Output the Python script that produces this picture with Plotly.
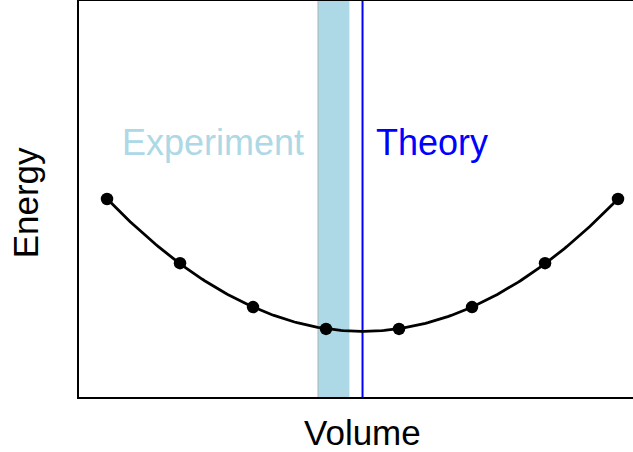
import numpy as np
import plotly.graph_objects as go

# Energy–volume data points (arbitrary units)
volume = [0, 1, 2, 3, 4, 5, 6, 7]
energy = [5.00, 3.38, 2.27, 1.72, 1.72, 2.27, 3.38, 5.00]

# Experimental equilibrium-volume range and labels
experiment_range = [2.89, 3.32]
label_experiment = "Experiment"
label_theory = "Theory"
x_title = "Volume"
y_title = "Energy"

# Quadratic fit of E(V); the theoretical volume is the fit minimum
coef = np.polyfit(volume, energy, 2)
v_fit = np.linspace(min(volume), max(volume), 200)
e_fit = np.polyval(coef, v_fit)
v_theory = -coef[1] / (2 * coef[0])

FONT = "Liberation Sans, Arial, sans-serif"

fig = go.Figure()
fig.add_trace(go.Scatter(x=v_fit, y=e_fit, mode="lines",
                         line=dict(color="black", width=2.8),
                         hoverinfo="skip", showlegend=False))
fig.add_trace(go.Scatter(x=volume, y=energy, mode="markers",
                         marker=dict(color="black", size=12.5),
                         showlegend=False))

# Experimental band and theory line
fig.add_shape(type="rect", xref="x", yref="paper",
              x0=experiment_range[0], x1=experiment_range[1], y0=0, y1=1,
              fillcolor="#ADD8E6", line=dict(width=0), layer="below")
fig.add_shape(type="line", xref="x", yref="paper",
              x0=experiment_range[0], x1=experiment_range[0], y0=0, y1=1,
              line=dict(color="#A8B4B8", width=1), layer="below")
fig.add_shape(type="line", xref="x", yref="paper",
              x0=v_theory, x1=v_theory, y0=0, y1=1,
              line=dict(color="blue", width=2), layer="below")

fig.add_annotation(x=experiment_range[0] - 0.16, y=6.42, xref="x", yref="y",
                   text=label_experiment, showarrow=False,
                   xanchor="right", yanchor="middle",
                   font=dict(family=FONT, size=36, color="#ADD8E6"))
fig.add_annotation(x=v_theory + 0.16, y=6.42, xref="x", yref="y",
                   text=label_theory, showarrow=False,
                   xanchor="left", yanchor="middle",
                   font=dict(family=FONT, size=36, color="blue"))

# Axis titles
fig.add_annotation(x=0.511, y=-0.09, xref="paper", yref="paper",
                   text=x_title, showarrow=False,
                   xanchor="center", yanchor="middle",
                   font=dict(family=FONT, size=35, color="black"))
fig.add_annotation(x=-0.095, y=0.49, xref="paper", yref="paper",
                   text=y_title, showarrow=False, textangle=-90,
                   xanchor="center", yanchor="middle",
                   font=dict(family=FONT, size=35, color="black"))

fig.update_xaxes(range=[-0.384, 7.205], showgrid=False, zeroline=False,
                 showticklabels=False, ticks="", showline=True,
                 linecolor="black", linewidth=2, mirror=True)
fig.update_yaxes(range=[0, 10], showgrid=False, zeroline=False,
                 showticklabels=False, ticks="", showline=True,
                 linecolor="black", linewidth=2, mirror=False)

fig.update_layout(width=633, height=452,
                  margin=dict(l=79, r=0, t=1, b=55),
                  paper_bgcolor="white", plot_bgcolor="white",
                  font=dict(family=FONT))

fig.write_html("out.html")
